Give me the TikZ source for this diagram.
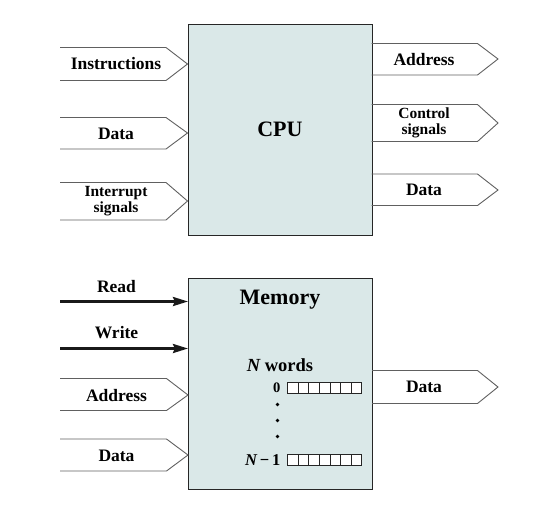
\documentclass[tikz,border=0pt]{standalone}
\usepackage{fontspec}
\setmainfont{Liberation Serif}
\usepackage{xcolor}
\usetikzlibrary{positioning,arrows.meta,calc}

\definecolor{boxfill}{HTML}{DAE8E8}
\definecolor{busgray}{HTML}{606060}

\tikzset{
	unitbox/.style={draw=black!85,fill=boxfill,line width=0.9pt,minimum width=184pt,minimum height=211.5pt,anchor=north west,inner sep=0pt},
	bus/.style={draw=busgray,line width=0.9pt},
	lbl/.style={font=\fontsize{17.5}{19}\selectfont\bfseries,align=center,inner sep=0pt},
	smalllbl/.style={font=\fontsize{15.5}{16}\selectfont\bfseries,align=center,inner sep=0pt},
	title/.style={font=\fontsize{22}{24}\selectfont\bfseries,inner sep=0pt},
	ctrl/.style={draw=black!90,line width=2.6pt,-{Stealth[length=15pt,width=9pt,inset=2pt]}},
	cell/.style={draw=black!85,fill=white,line width=0.7pt},
}

\begin{document}
\begin{tikzpicture}[x=1pt,y=-1pt]
	\useasboundingbox (0,0) rectangle (536,523);
	% CPU
	\node[unitbox] (cpu) at (187.5,23.5) {};
	\node[title] (cpulbl) at (cpu.center) {CPU};
	\draw[bus] (60,47.5) -- (166,47.5) -- (187.5,64) -- (166,80.5) -- (60,80.5);
	\draw[bus] (60,117.5) -- (166,117.5) -- (187.5,133) -- (166,149) -- (60,149);
	\draw[bus] (60,182.5) -- (166,182.5) -- (187.5,201) -- (166,220) -- (60,220);
	\node[lbl] (instr) at (116,64) {Instructions};
	\node[lbl] (datain) at (116,133.5) {Data};
	\node[smalllbl] (intr) at (116,201) {Interrupt\\signals};
	\draw[bus] (371.5,43.5) -- (477.5,43.5) -- (498,59) -- (477.5,75) -- (371.5,75);
	\draw[bus] (371.5,104.5) -- (477.5,104.5) -- (498,123) -- (477.5,141.5) -- (371.5,141.5);
	\draw[bus] (371.5,174) -- (477.5,174) -- (498,190) -- (477.5,205.5) -- (371.5,205.5);
	\node[lbl] (addrout) at (424,59.5) {Address};
	\node[smalllbl] (ctrlout) at (424,123) {Control\\signals};
	\node[lbl] (dataout) at (424,190) {Data};

	% Memory
	\node[unitbox] (mem) at (188,277.5) {};
	\node[title] (memlbl) at (280,300) {Memory};
	\coordinate (rd) at (60,301.5);
	\coordinate (wr) at (60,348.5);
	\draw[ctrl] (rd) -- (rd -| mem.west);
	\draw[ctrl] (wr) -- (wr -| mem.west);
	\node[lbl] (readlbl) at (116.5,286.5) {Read};
	\node[lbl] (writelbl) at (116.5,333) {Write};
	\draw[bus] (60,378.5) -- (166.5,378.5) -- (188,395) -- (166.5,410.5) -- (60,410.5);
	\draw[bus] (60,439) -- (166.5,439) -- (188,455) -- (166.5,471) -- (60,471);
	\node[lbl] (addrin) at (116.5,395.5) {Address};
	\node[lbl] (memdin) at (116.5,455.5) {Data};
	\draw[bus] (372,370.5) -- (477.5,370.5) -- (498,387) -- (477.5,403.5) -- (372,403.5);
	\node[lbl] (memdout) at (424,387) {Data};

	% words
	\node[lbl,font=\fontsize{18.5}{20}\selectfont\bfseries] (nwords) at (280,365) {{\itshape N} words};
	\foreach \i in {0,...,6} {
		\draw[cell] (287.5+\i*10.6,382.5) rectangle ++(10.6,10.5);
		\draw[cell] (287.5+\i*10.6,454.5) rectangle ++(10.6,10.5);
	}
	\node[font=\fontsize{14.5}{15}\selectfont\bfseries,anchor=east,inner sep=0pt] (first) at (280.5,388) {0};
	\node[font=\fontsize{16.5}{17}\selectfont\bfseries,anchor=east,inner sep=0pt] (last) at (280.5,460) {{\itshape N}\,−\,1};
	\foreach \y in {404.5,420.5,436.5}
		\fill[black] (277.5,\y) circle (1.8pt);
\end{tikzpicture}
\end{document}
